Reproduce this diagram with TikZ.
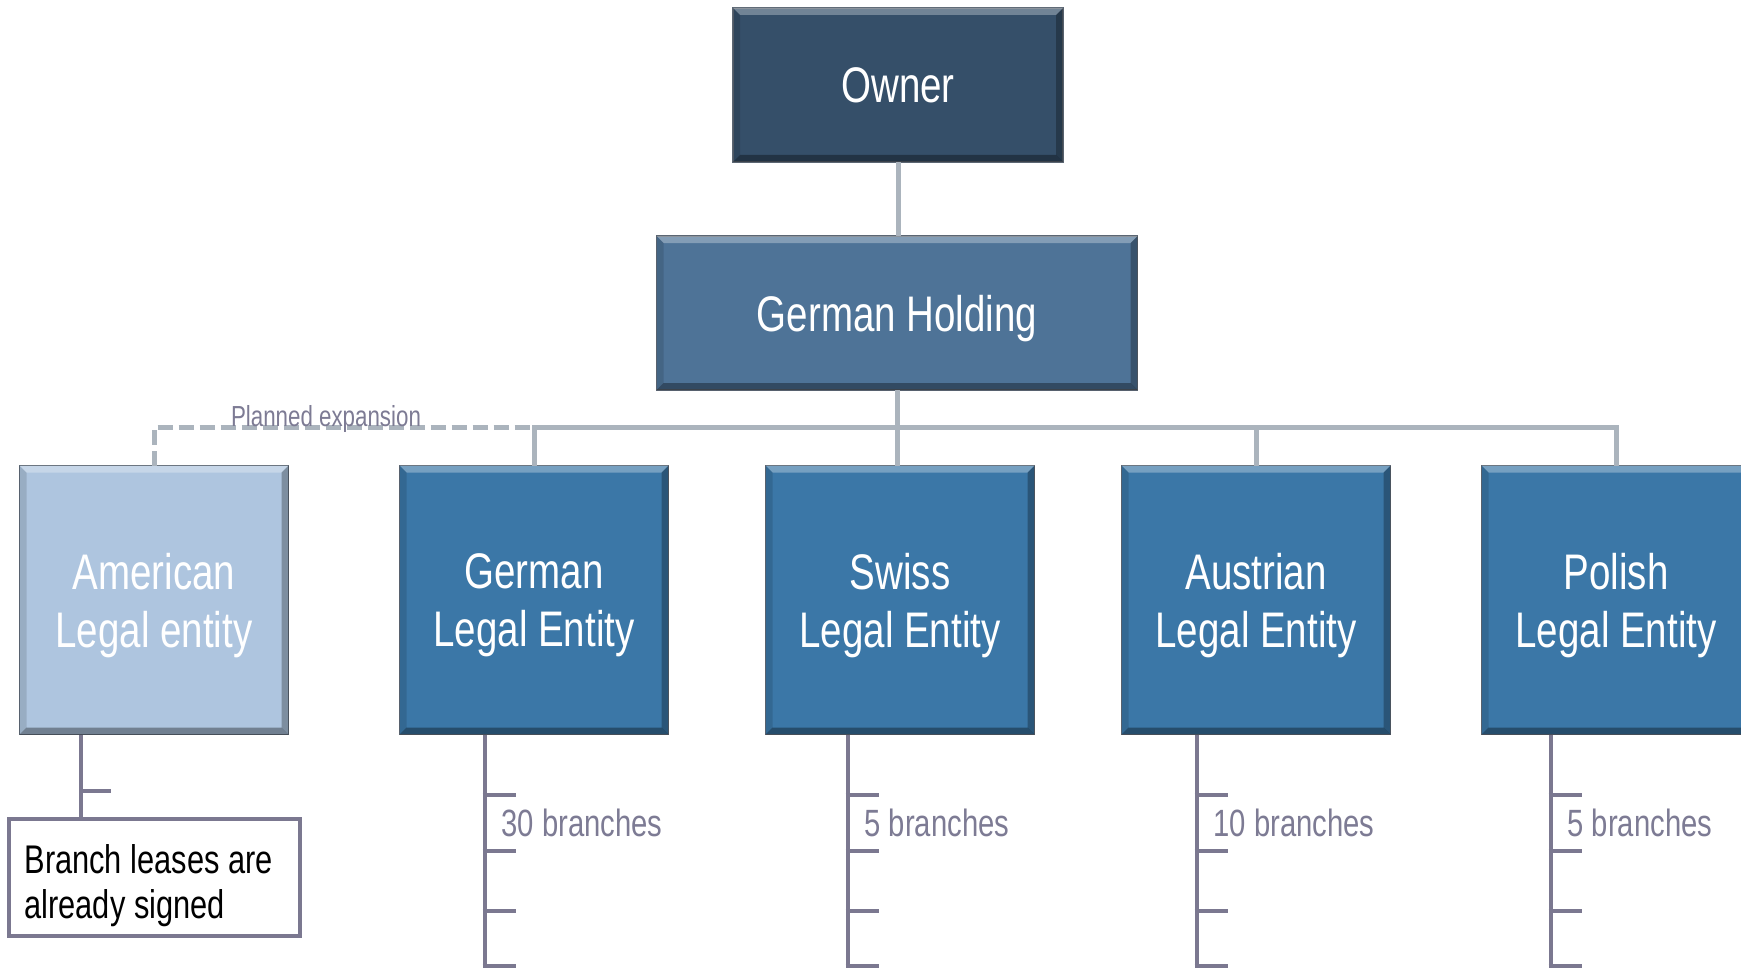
\documentclass[tikz,border=0pt]{standalone}
\usepackage{fontspec}
\setmainfont[FakeStretch=0.77]{Liberation Sans}
\usetikzlibrary{calc}

\definecolor{ownerfill}{HTML}{354F69}
\definecolor{holdfill}{HTML}{4E7397}
\definecolor{entityfill}{HTML}{3B77A7}
\definecolor{plannedfill}{HTML}{AEC5DF}
\definecolor{boxedge}{HTML}{5B6673}
\definecolor{busline}{HTML}{ABB4BD}
\definecolor{subline}{HTML}{7B7890}
\definecolor{labelgray}{HTML}{7D7B94}

\begin{document}
\begin{tikzpicture}
    [x=1pt, y=-1pt,
     every node/.style={outer sep=0pt, inner sep=0pt},
     box/.style={draw=boxedge, line width=1.5pt, align=center, text=white, text depth=0pt,
                 font=\fontsize{50}{58}\selectfont},
     entity/.style={box, fill=entityfill, minimum width=269, minimum height=269},
     bus/.style={draw=busline, line width=5pt},
     sub/.style={draw=subline, line width=4pt},
     count/.style={text=labelgray, font=\fontsize{38}{42}\selectfont, anchor=base west}]

    \useasboundingbox (0,0) rectangle (1741,971);

    % top of the tree
    \node[box, fill=ownerfill, minimum width=330, minimum height=154] (owner) at (898,85) {Owner};
    \node[box, fill=holdfill, minimum width=481, minimum height=154] (holding) at (897,313) {German Holding};

    % legal entities
    \node[entity, fill=plannedfill] (american) at (154,600) {American\\Legal entity};
    \node[entity] (german)   at (534,600)  {German\\Legal Entity};
    \node[entity] (swiss)    at (900,600)  {Swiss\\Legal Entity};
    \node[entity] (austrian) at (1256,600) {Austrian\\Legal Entity};
    \node[entity] (polish)   at (1616,600) {Polish\\Legal Entity};

    % bevelled edges
    \foreach \n in {owner, holding, american, german, swiss, austrian, polish} {
      \fill[white, opacity=.3] (\n.north west) -- (\n.north east) -- ([shift={(-7pt,-7pt)}]\n.north east) -- ([shift={(7pt,-7pt)}]\n.north west) -- cycle;
      \fill[black, opacity=.35] (\n.south west) -- (\n.south east) -- ([shift={(-7pt,7pt)}]\n.south east) -- ([shift={(7pt,7pt)}]\n.south west) -- cycle;
      \fill[black, opacity=.28] (\n.north east) -- (\n.south east) -- ([shift={(-7pt,7pt)}]\n.south east) -- ([shift={(-7pt,-7pt)}]\n.north east) -- cycle;
      \fill[black, opacity=.12] (\n.north west) -- (\n.south west) -- ([shift={(7pt,7pt)}]\n.south west) -- ([shift={(7pt,-7pt)}]\n.north west) -- cycle;
    }

    % connectors
    \coordinate (busline) at (0,427);
    \draw[bus] (owner.south) -- (owner.south |- holding.north);
    \draw[bus] (holding.south) -- (holding.south |- swiss.north);
    \draw[bus] (german.north) -- (german.north |- busline) -- (polish.north |- busline) -- (polish.north);
    \draw[bus] (austrian.north) -- (austrian.north |- busline);
    \draw[bus, dash pattern=on 15pt off 6pt] (american.north) -- (american.north |- busline) -- (german.north |- busline);
    \node[text=labelgray, font=\fontsize{29}{31}\selectfont, anchor=base] (planned) at (326,426) {Planned expansion};

    % branches
    \node[draw=subline, line width=4pt, minimum width=291, minimum height=117, text width=259,
          text height=47pt, inner xsep=16pt, align=flush left, font=\fontsize{40}{45}\selectfont] (note) at (154,877)
          {Branch leases are\\already signed};
    \coordinate (americanroot) at ([xshift=61pt]american.south west);
    \draw[sub] (americanroot) -- (americanroot |- note.north);
    \draw[sub] (americanroot |- 0,791) -- ++(30,0);

    \foreach \n/\dx/\num in {german/85/30, swiss/82/5, austrian/75/10, polish/69/5} {
      \coordinate (\n root) at ([xshift=\dx pt]\n.south west);
      \draw[sub] (\n root) -- (\n root |- 0,968);
      \foreach \ty in {795,851,911,966}
        \draw[sub] ($(\n root |- 0,\ty)+(-2,0)$) -- ++(33,0);
      \node[count] (\n count) at ($(\n root |- 0,836)+(17,0)$) {\num\ branches};
    }

\end{tikzpicture}
\end{document}
